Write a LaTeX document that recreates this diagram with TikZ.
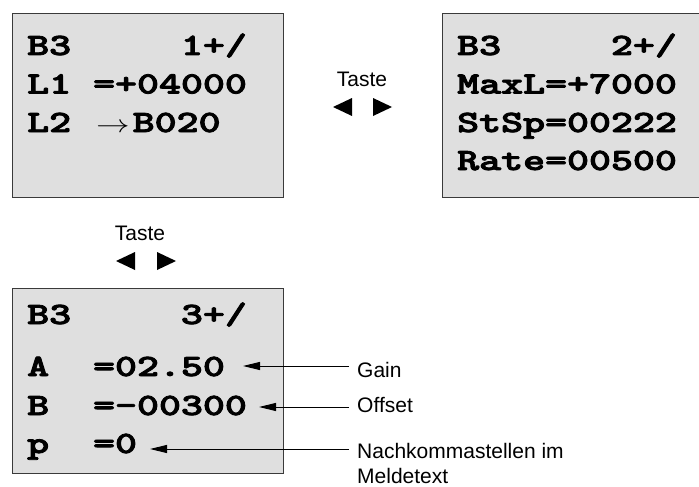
\documentclass[tikz,border=0pt]{standalone}
\usepackage{fontspec}
\usepackage{graphicx}
\usetikzlibrary{arrows.meta}
\newfontfamily\labfont{Liberation Sans}
\newfontfamily\lcdfont[FakeBold=2.5]{lmmonolt10-bold.otf}
\definecolor{lcdfill}{HTML}{DFDFDF}
\definecolor{lcdedge}{HTML}{3A3A3A}
\newcommand\lcdtxt[1]{\scalebox{1.35}[1]{\lcdfont\fontsize{31}{31}\selectfont #1}}
\newcommand\lcdarrow{\hspace{3pt}\scalebox{1.35}[1]{\fontsize{25}{25}\selectfont$\rightarrow$}\hspace{3pt}}
\tikzset{
  lcdbox/.style={draw=lcdedge, fill=lcdfill, line width=1.3pt, anchor=north west, inner sep=0pt},
  lcdline/.style={anchor=base west, inner sep=0pt},
  lab/.style={anchor=base west, inner sep=0pt, font=\labfont\fontsize{21}{26}\selectfont},
  taste/.style={anchor=base, inner sep=0pt, font=\labfont\fontsize{21}{26}\selectfont},
  pointer/.style={line width=1pt, -{Triangle[length=17pt,width=8pt]}},
  key/.style={fill=black}
}
\begin{document}
\begin{tikzpicture}[x=1pt,y=-1pt]
\useasboundingbox (0,0) rectangle (699,487);
% boxes
\node[lcdbox, minimum width=271pt, minimum height=184pt] (box1) at (12,13) {};
\node[lcdbox, minimum width=258pt, minimum height=184pt] (box2) at (442,13) {};
\node[lcdbox, minimum width=271pt, minimum height=185pt] (box3) at (12,288) {};
% box 1 text
\node[lcdline] (b1r1) at (27,55) {\lcdtxt{B3~~~~~1+/}};
\node[lcdline] (b1r2) at (27,93.5) {\lcdtxt{L1~=+04000}};
\node[lcdline] (b1r3) at (27,132) {\lcdtxt{L2~}\lcdarrow\lcdtxt{B020}};
% box 2 text
\node[lcdline] (b2r1) at (457,55) {\lcdtxt{B3~~~~~2+/}};
\node[lcdline] (b2r2) at (457,93.5) {\lcdtxt{MaxL=+7000}};
\node[lcdline] (b2r3) at (457,132) {\lcdtxt{StSp=00222}};
\node[lcdline] (b2r4) at (457,170) {\lcdtxt{Rate=00500}};
% box 3 text
\node[lcdline] (b3r1) at (27,324) {\lcdtxt{B3~~~~~3+/}};
\node[lcdline] (b3r2) at (27,376) {\lcdtxt{A~~=02.50}};
\node[lcdline] (b3r3) at (27,415) {\lcdtxt{B~~=-00300}};
\node[lcdline] (b3r4) at (27,453) {\lcdtxt{p~~=0}};
% Taste labels
\node[taste] (taste1) at (362,87) {Taste};
\fill[key] (333,107) -- (352,98) -- (352,116) -- cycle;
\fill[key] (392,107) -- (373,98) -- (373,116) -- cycle;
\node[taste] (taste2) at (140,240) {Taste};
\fill[key] (116,261) -- (135,252) -- (135,270) -- cycle;
\fill[key] (176,261) -- (157,252) -- (157,270) -- cycle;
% labels
\node[lab] (gain) at (357,377) {Gain};
\node[lab] (offset) at (357,412) {Offset};
\node[lab] (nach1) at (357,458) {Nachkommastellen im};
\node[lab] (nach2) at (357,483) {Meldetext};
% pointers
\coordinate (tipA) at (243,366);
\coordinate (tipB) at (259,407);
\coordinate (tipP) at (150,449);
\coordinate (startA) at (349,366);
\coordinate (startB) at (349,407);
\coordinate (startP) at (349,449);
\draw[pointer] (startA) -- (tipA);
\draw[pointer] (startB) -- (tipB);
\draw[pointer] (startP) -- (tipP);
\end{tikzpicture}
\end{document}
